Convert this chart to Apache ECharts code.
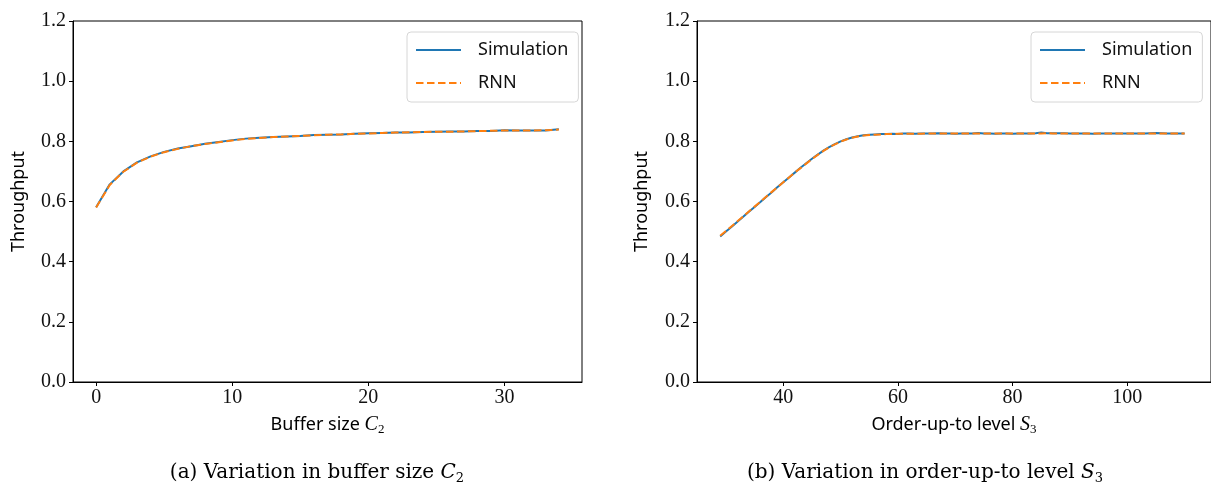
<!DOCTYPE html>
<html>
<head>
<meta charset="utf-8">
<title>Throughput: Simulation vs RNN</title>
<script src="https://cdn.jsdelivr.net/npm/echarts@6/dist/echarts.min.js"></script>
<style>
  html, body { margin: 0; padding: 0; background: #fff; }
  #chart { width: 1211px; height: 498px; }
</style>
</head>
<body>
<div id="chart"></div>
<script>
// (a) buffer size C2 = 0..34
var bufferStart = 0;
var bufferSim = [0.581,0.657,0.700,0.730,0.750,0.765,0.776,0.784,0.792,0.798,
                 0.804,0.809,0.812,0.814,0.816,0.818,0.821,0.822,0.823,0.825,
                 0.827,0.828,0.829,0.829,0.831,0.832,0.833,0.833,0.834,0.834,
                 0.837,0.836,0.836,0.836,0.840];
var bufferRnn = [0.580,0.655,0.699,0.729,0.749,0.764,0.775,0.784,0.791,0.797,
                 0.803,0.808,0.811,0.814,0.816,0.818,0.820,0.822,0.823,0.825,
                 0.826,0.828,0.829,0.830,0.831,0.832,0.832,0.833,0.834,0.835,
                 0.836,0.836,0.836,0.837,0.839];

// (b) order-up-to level S3 = 29..110
var levelStart = 29;
var levelSim = [0.484,0.500,0.516,0.533,0.549,0.566,0.582,0.598,0.615,0.631,
                0.648,0.664,0.680,0.696,0.712,0.727,0.742,0.756,0.769,0.781,
                0.791,0.800,0.807,0.813,0.817,0.820,0.822,0.823,0.824,0.824,
                0.825,0.824,0.826,0.826,0.825,0.826,0.826,0.826,0.827,0.826,
                0.826,0.825,0.826,0.826,0.826,0.828,0.826,0.826,0.825,0.826,
                0.826,0.825,0.826,0.826,0.826,0.827,0.829,0.827,0.827,0.827,
                0.827,0.826,0.826,0.826,0.826,0.825,0.826,0.826,0.826,0.826,
                0.826,0.826,0.826,0.826,0.826,0.827,0.828,0.827,0.826,0.826,
                0.826,0.826];
var levelRnn = [0.486,0.502,0.518,0.534,0.550,0.567,0.583,0.599,0.616,0.632,
                0.648,0.664,0.680,0.696,0.711,0.726,0.741,0.755,0.768,0.780,
                0.790,0.799,0.806,0.812,0.816,0.819,0.821,0.822,0.823,0.824,
                0.824,0.825,0.825,0.825,0.825,0.825,0.826,0.826,0.826,0.826,
                0.826,0.826,0.826,0.826,0.826,0.826,0.826,0.826,0.826,0.826,
                0.826,0.826,0.826,0.826,0.826,0.826,0.826,0.827,0.826,0.826,
                0.826,0.826,0.826,0.826,0.826,0.826,0.826,0.826,0.826,0.826,
                0.826,0.826,0.826,0.826,0.826,0.826,0.826,0.826,0.826,0.826,
                0.826,0.826];

var bufferTicks = [0, 10, 20, 30];
var levelTicks = [40, 60, 80, 100];

function pairs(start, arr) {
  return arr.map(function (v, i) { return [start + i, v]; });
}

var tickFont = { fontFamily: 'Liberation Serif', fontSize: 20, color: '#111' };
var nameRich = {
  t: { fontFamily: 'Noto Sans', fontSize: 18, color: '#000', lineHeight: 22 },
  m: { fontFamily: 'Liberation Serif', fontStyle: 'italic', fontSize: 20, color: '#000', lineHeight: 22 },
  s: { fontFamily: 'Liberation Serif', fontSize: 13, color: '#000', lineHeight: 14, verticalAlign: 'bottom' }
};

function xAxis(idx, min, max, ticks, name) {
  return {
    type: 'value', gridIndex: idx, min: min, max: max,
    name: name, nameLocation: 'middle', nameGap: 32,
    nameTextStyle: { rich: nameRich },
    axisLine: { show: true, onZero: false, lineStyle: { color: '#000', width: 1 } },
    axisTick: { show: true, length: 4, lineStyle: { color: '#000' }, customValues: ticks },
    axisLabel: { margin: 6, customValues: ticks, fontFamily: tickFont.fontFamily, fontSize: tickFont.fontSize, color: tickFont.color },
    splitLine: { show: false }
  };
}

function yAxis(idx, gap) {
  return {
    type: 'value', gridIndex: idx, min: 0, max: 1.2, interval: 0.2,
    name: 'Throughput', nameLocation: 'middle', nameGap: gap, nameRotate: 90,
    nameTextStyle: { fontFamily: 'Noto Sans', fontSize: 18, color: '#000' },
    axisLine: { show: true, onZero: false, lineStyle: { color: '#000', width: 1 } },
    axisTick: { show: true, length: 4, lineStyle: { color: '#000' } },
    axisLabel: { margin: 7, fontFamily: tickFont.fontFamily, fontSize: tickFont.fontSize, color: tickFont.color,
      formatter: function (v) { return v.toFixed(1); } },
    splitLine: { show: false }
  };
}

function legend(id, left) {
  return {
    id: id, orient: 'vertical', left: left, top: 32,
    data: ['Simulation', 'RNN'],
    backgroundColor: '#fff', borderColor: '#d6d6d6', borderWidth: 1, borderRadius: 4,
    padding: [9, 10, 10, 8], itemWidth: 45, itemHeight: 14, itemGap: 15,
    itemStyle: { opacity: 0 },
    textStyle: { fontFamily: 'Noto Sans', fontSize: 18, color: '#111', padding: [0, 0, 0, 12] }
  };
}

function line(name, xi, data, color, dashed, z) {
  return {
    name: name, type: 'line', xAxisIndex: xi, yAxisIndex: xi,
    data: data, showSymbol: false, symbol: 'none', animation: false, z: z,
    lineStyle: { color: color, width: 2, type: dashed ? [7.5, 3.5] : 'solid' },
    itemStyle: { color: color }
  };
}

var captionRich = {
  n: { fontFamily: 'DejaVu Serif', fontWeight: 'normal', fontSize: 20, color: '#000', lineHeight: 24 },
  i: { fontFamily: 'DejaVu Serif', fontWeight: 'normal', fontStyle: 'italic', fontSize: 20, color: '#000', lineHeight: 24 },
  s: { fontFamily: 'DejaVu Serif', fontWeight: 'normal', fontSize: 13, color: '#000', lineHeight: 16, verticalAlign: 'bottom' }
};

var chart = echarts.init(document.getElementById('chart'));
chart.setOption({
  animation: false,
  grid: [
    { left: 73, top: 21, width: 509, height: 361, show: true, borderColor: '#000', borderWidth: 1 },
    // the right panel is clipped by the figure edge, so its right spine falls outside
    { left: 697, top: 21, width: 517, height: 361, show: true, borderColor: '#000', borderWidth: 1 }
  ],
  xAxis: [
    xAxis(0, -1.7, 35.7, bufferTicks, '{t|Buffer size }{m|C}{s|2}'),
    xAxis(1, 24.95, 114.6, levelTicks, '{t|Order-up-to level }{m|S}{s|3}')
  ],
  yAxis: [yAxis(0, 45), yAxis(1, 46)],
  legend: [legend('la', 407), legend('lb', 1031)],
  title: [
    { text: '{n|(a) Variation in buffer size }{i|C}{s|2}', left: 312, top: 456, textAlign: 'center',
      textStyle: { fontWeight: 'normal', rich: captionRich } },
    { text: '{n|(b) Variation in order-up-to level }{i|S}{s|3}', left: 920, top: 456, textAlign: 'center',
      textStyle: { fontWeight: 'normal', rich: captionRich } }
  ],
  series: [
    line('Simulation', 0, pairs(bufferStart, bufferSim), '#1f77b4', false, 2),
    line('RNN', 0, pairs(bufferStart, bufferRnn), '#ff7f0e', true, 3),
    line('Simulation', 1, pairs(levelStart, levelSim), '#1f77b4', false, 2),
    line('RNN', 1, pairs(levelStart, levelRnn), '#ff7f0e', true, 3)
  ]
});
</script>
</body>
</html>
